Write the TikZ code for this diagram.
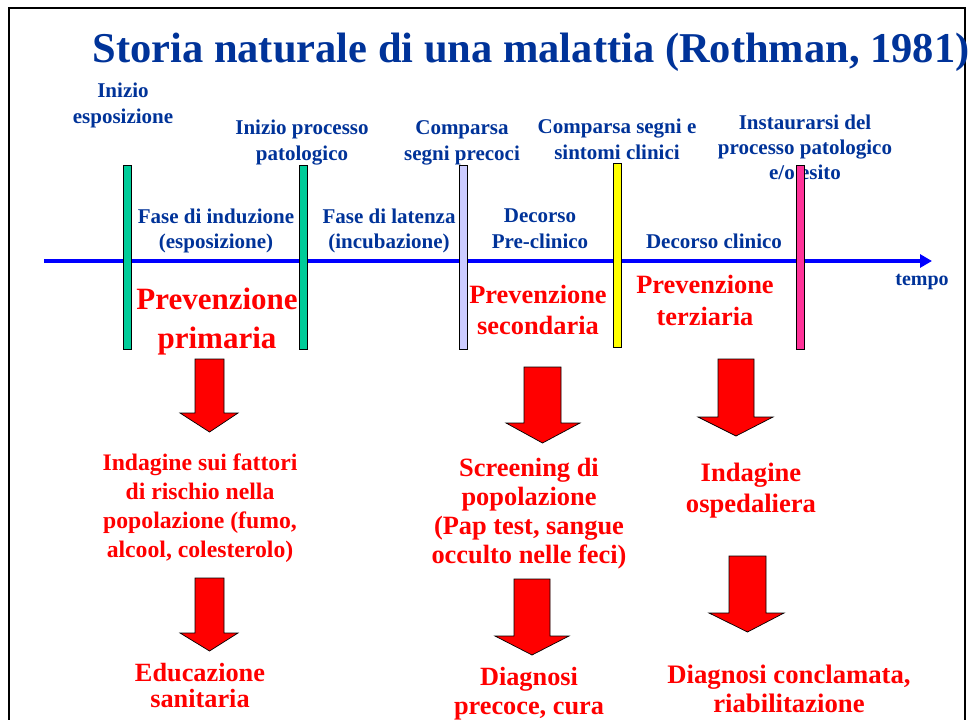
\documentclass[tikz,border=0pt]{standalone}
\usepackage{fontspec}
\setmainfont{Liberation Serif}
\usetikzlibrary{arrows.meta}
\definecolor{dblue}{RGB}{0,51,153}
\definecolor{tlblue}{RGB}{0,0,255}
\definecolor{bgreen}{RGB}{0,204,153}
\definecolor{blav}{RGB}{204,204,255}
\definecolor{byellow}{RGB}{255,255,0}
\definecolor{bpink}{RGB}{255,51,153}
\definecolor{myred}{RGB}{255,0,0}
\newcommand\fsz[2]{\fontsize{#1}{#2}\selectfont\bfseries}
% block arrow: xl, xr, ytop, head-left, head-right, yhead, ytip
\newcommand\blkarrow[7]{%
  \path[blockarrow] (#1,#3) -- (#2,#3) -- (#2,#6) -- (#5,#6) -- ({(#1+#2)/2},#7) -- (#4,#6) -- (#1,#6) -- cycle;}
\tikzset{
  bluetxt/.style={text=dblue, align=center, inner sep=0pt, anchor=base},
  redtxt/.style={text=myred, align=center, inner sep=0pt, anchor=base},
  barbox/.style={draw=black, line width=0.7pt, minimum width=8pt, minimum height=184pt, inner sep=0pt},
  blockarrow/.style={fill=myred, draw=black, line width=0.7pt, line join=miter},
  timeline/.style={draw=tlblue, line width=4pt, -{Triangle[length=12pt,width=13pt]}},
  frameline/.style={draw=black, line width=2.5pt}
}
\begin{document}
\begin{tikzpicture}[x=1pt,y=-1pt]
\useasboundingbox (0,0) rectangle (969,720);
\fill[white] (0,0) rectangle (969,720);
% frame
\draw[frameline] (9,730) -- (9,8) -- (965,8) -- (965,730);
% title
\node[bluetxt, font=\fsz{42.5}{50}] (title) at (531,62) {Storia naturale di una malattia (Rothman, 1981)};
% timeline
\coordinate (t0) at (44,261);
\coordinate (t1) at (932,261);
\draw[timeline] (t0) -- (t1);
\node[bluetxt, font=\fsz{20}{24}] (tempo) at (922,285) {tempo};
% event labels (y = baseline of last line)
\node[bluetxt, font=\fsz{21}{26}] (e1) at (123,123) {Inizio\\esposizione};
\node[bluetxt, font=\fsz{21}{26}] (e2) at (302,160) {Inizio processo\\patologico};
\node[bluetxt, font=\fsz{21}{26}] (e3) at (462,160) {Comparsa\\segni precoci};
\node[bluetxt, font=\fsz{21}{26}] (e4) at (617,159) {Comparsa segni e\\sintomi clinici};
\node[bluetxt, font=\fsz{21}{25}] (e5) at (805,179) {Instaurarsi del\\processo patologico\\e/o esito};
% phase labels
\node[bluetxt, font=\fsz{21}{25}] (p1) at (216,248) {Fase di induzione\\(esposizione)};
\node[bluetxt, font=\fsz{21}{25}] (p2) at (389,248) {Fase di latenza\\(incubazione)};
\node[bluetxt, font=\fsz{21}{26}] (p3) at (540,248) {Decorso\\Pre-clinico};
\node[bluetxt, font=\fsz{21}{26}] (p4) at (714,248) {Decorso clinico};
% bars
\node[barbox, fill=bgreen] (b1) at (127,257) {};
\node[barbox, fill=bgreen] (b2) at (303,257) {};
\node[barbox, fill=blav] (b3) at (463,257) {};
\node[barbox, fill=byellow] (b4) at (617,255) {};
\node[barbox, fill=bpink] (b5) at (800,257) {};
% prevention levels
\node[redtxt, font=\fsz{31}{39}] (r1) at (217,348) {Prevenzione\\primaria};
\node[redtxt, font=\fsz{26.4}{31}] (r2) at (538,334) {Prevenzione\\secondaria};
\node[redtxt, font=\fsz{26.4}{32}] (r3) at (705,325) {Prevenzione\\terziaria};
% actions
\node[redtxt, font=\fsz{23.7}{29}] (a1) at (200,557) {Indagine sui fattori\\di rischio nella\\popolazione (fumo,\\alcool, colesterolo)};
\node[redtxt, font=\fsz{26.4}{28.7}] (a2) at (529,563) {Screening di\\popolazione\\(Pap test, sangue\\occulto nelle feci)};
\node[redtxt, font=\fsz{26.6}{31}] (a3) at (751,512) {Indagine\\ospedaliera};
\node[redtxt, font=\fsz{26.3}{26}] (o1) at (200,707) {Educazione\\sanitaria};
\node[redtxt, font=\fsz{26.3}{29}] (o2) at (529,714) {Diagnosi\\precoce, cura};
\node[redtxt, font=\fsz{26.7}{29}] (o3) at (789,712) {Diagnosi conclamata,\\riabilitazione};
% block arrows
\blkarrow{195}{224}{359}{180}{238}{413}{432}
\blkarrow{524}{561}{367}{506}{580}{423}{443}
\blkarrow{718}{754}{359}{698}{773}{417}{436}
\blkarrow{195}{224}{578}{180}{238}{633}{651}
\blkarrow{514}{550}{579}{495}{569}{636}{655}
\blkarrow{729}{766}{556}{709}{784}{613}{632}
\end{tikzpicture}
\end{document}
